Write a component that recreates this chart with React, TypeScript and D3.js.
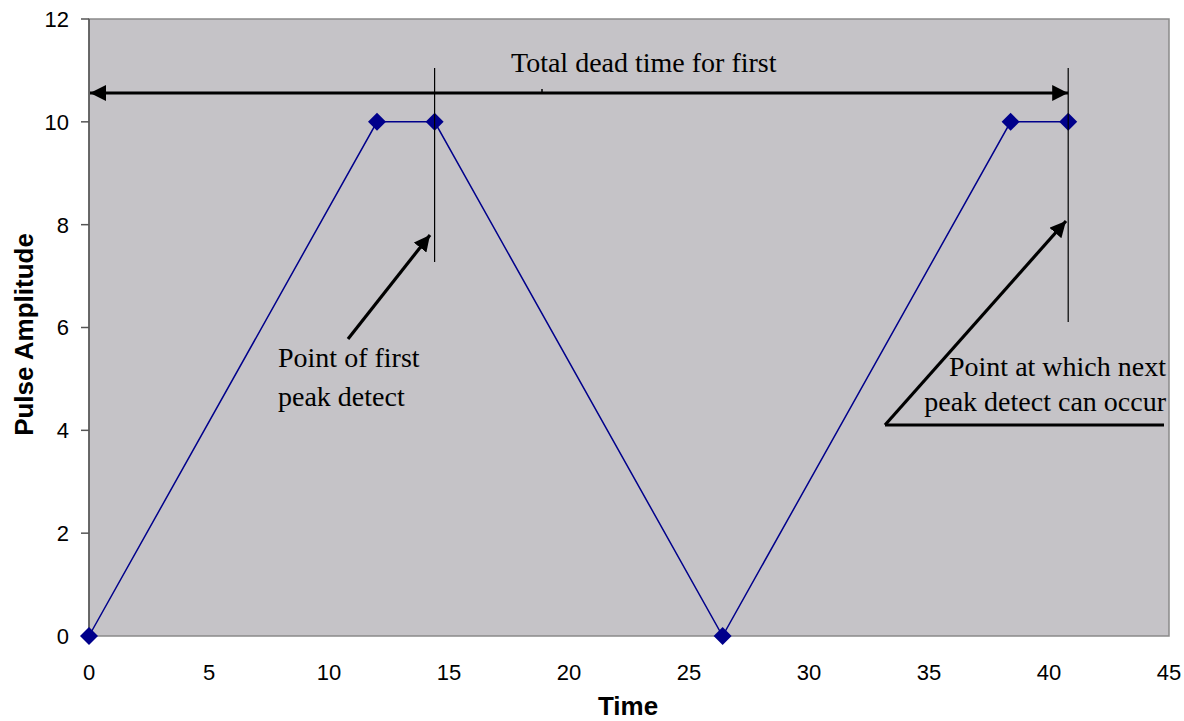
import React from "react";
import * as d3 from "d3";

const timeValues = [0, 12, 14.4, 26.4, 38.4, 40.8];
const amplitudeValues = [0, 10, 10, 0, 10, 10];
const xTicks = [0, 5, 10, 15, 20, 25, 30, 35, 40, 45];
const yTicks = [0, 2, 4, 6, 8, 10, 12];

const W = 1184, H = 721;
const L = 89, R = 1169, T = 19, B = 636;

export default function App() {
  const x = d3.scaleLinear().domain([0, 45]).range([L, R]);
  const y = d3.scaleLinear().domain([0, 12]).range([B, T]);
  const pts = timeValues.map((t, i) => [x(t), y(amplitudeValues[i])] as [number, number]);
  const line = d3.line()(pts) || "";
  const serif = "'Liberation Serif', 'Times New Roman', serif";
  const sans = "'Liberation Sans', Arial, sans-serif";
  const d = 9;
  const diamond = `M0,${-d} L${d},0 L0,${d} L${-d},0 Z`;
  return (
    <svg width={W} height={H} style={{ position: "absolute", left: 0, top: 0 }}>
      <defs>
        <marker id="ah" viewBox="0 0 10 10" refX="10" refY="5" markerWidth="5" markerHeight="5" orient="auto-start-reverse" markerUnits="strokeWidth">
          <path d="M0,0 L10,5 L0,10 z" fill="#000" />
        </marker>
      </defs>
      <rect x={0} y={0} width={W} height={H} fill="#fff" />
      <rect x={L} y={T} width={R - L} height={B - T} fill="#c5c3c7" stroke="#8a8a8a" strokeWidth={1.5} />
      <line x1={L} y1={T} x2={L} y2={B} stroke="#555" strokeWidth={1.5} />
      {yTicks.map((v) => (
        <g key={v}>
          <line x1={L - 8} x2={L} y1={y(v)} y2={y(v)} stroke="#555" strokeWidth={1.5} />
          <text x={69} y={y(v)} dy="0.36em" textAnchor="end" fontFamily={sans} fontSize={22}>{v}</text>
        </g>
      ))}
      {xTicks.map((v) => (
        <text key={v} x={x(v)} y={680} textAnchor="middle" fontFamily={sans} fontSize={22}>{v}</text>
      ))}
      <text x={628} y={715} textAnchor="middle" fontFamily={sans} fontSize={26} fontWeight="bold">Time</text>
      <text transform={`translate(33,${(T + B) / 2 + 7}) rotate(-90)`} textAnchor="middle" fontFamily={sans} fontSize={26} fontWeight="bold">Pulse Amplitude</text>

      <path d={line} fill="none" stroke="#00008b" strokeWidth={1.5} />
      {pts.map((p, i) => (
        <path key={i} d={diamond} transform={`translate(${p[0]},${p[1]})`} fill="#00008b" />
      ))}

      {/* annotations */}
      <line x1={x(14.4)} x2={x(14.4)} y1={68} y2={262} stroke="#000" strokeWidth={1.2} />
      <line x1={x(40.8)} x2={x(40.8)} y1={68} y2={322} stroke="#000" strokeWidth={1.2} />
      <line x1={L + 1} x2={x(40.8)} y1={93} y2={93} stroke="#000" strokeWidth={3.2} markerStart="url(#ah)" markerEnd="url(#ah)" />
      <line x1={542} x2={542} y1={89} y2={93} stroke="#000" strokeWidth={1.5} />
      <text x={511} y={72} fontFamily={serif} fontSize={28}>Total dead time for first</text>

      <line x1={348} y1={339} x2={430} y2={235} stroke="#000" strokeWidth={3.2} markerEnd="url(#ah)" />
      <text x={278} y={367} fontFamily={serif} fontSize={28}>Point of first</text>
      <text x={278} y={406} fontFamily={serif} fontSize={28}>peak detect</text>

      <line x1={885} y1={425} x2={1066} y2={221} stroke="#000" strokeWidth={3.2} markerEnd="url(#ah)" />
      <line x1={885} y1={425} x2={1164} y2={425} stroke="#000" strokeWidth={3.2} />
      <text x={1166} y={376} textAnchor="end" fontFamily={serif} fontSize={28}>Point at which next</text>
      <text x={1166} y={411} textAnchor="end" fontFamily={serif} fontSize={28}>peak detect can occur</text>
    </svg>
  );
}
